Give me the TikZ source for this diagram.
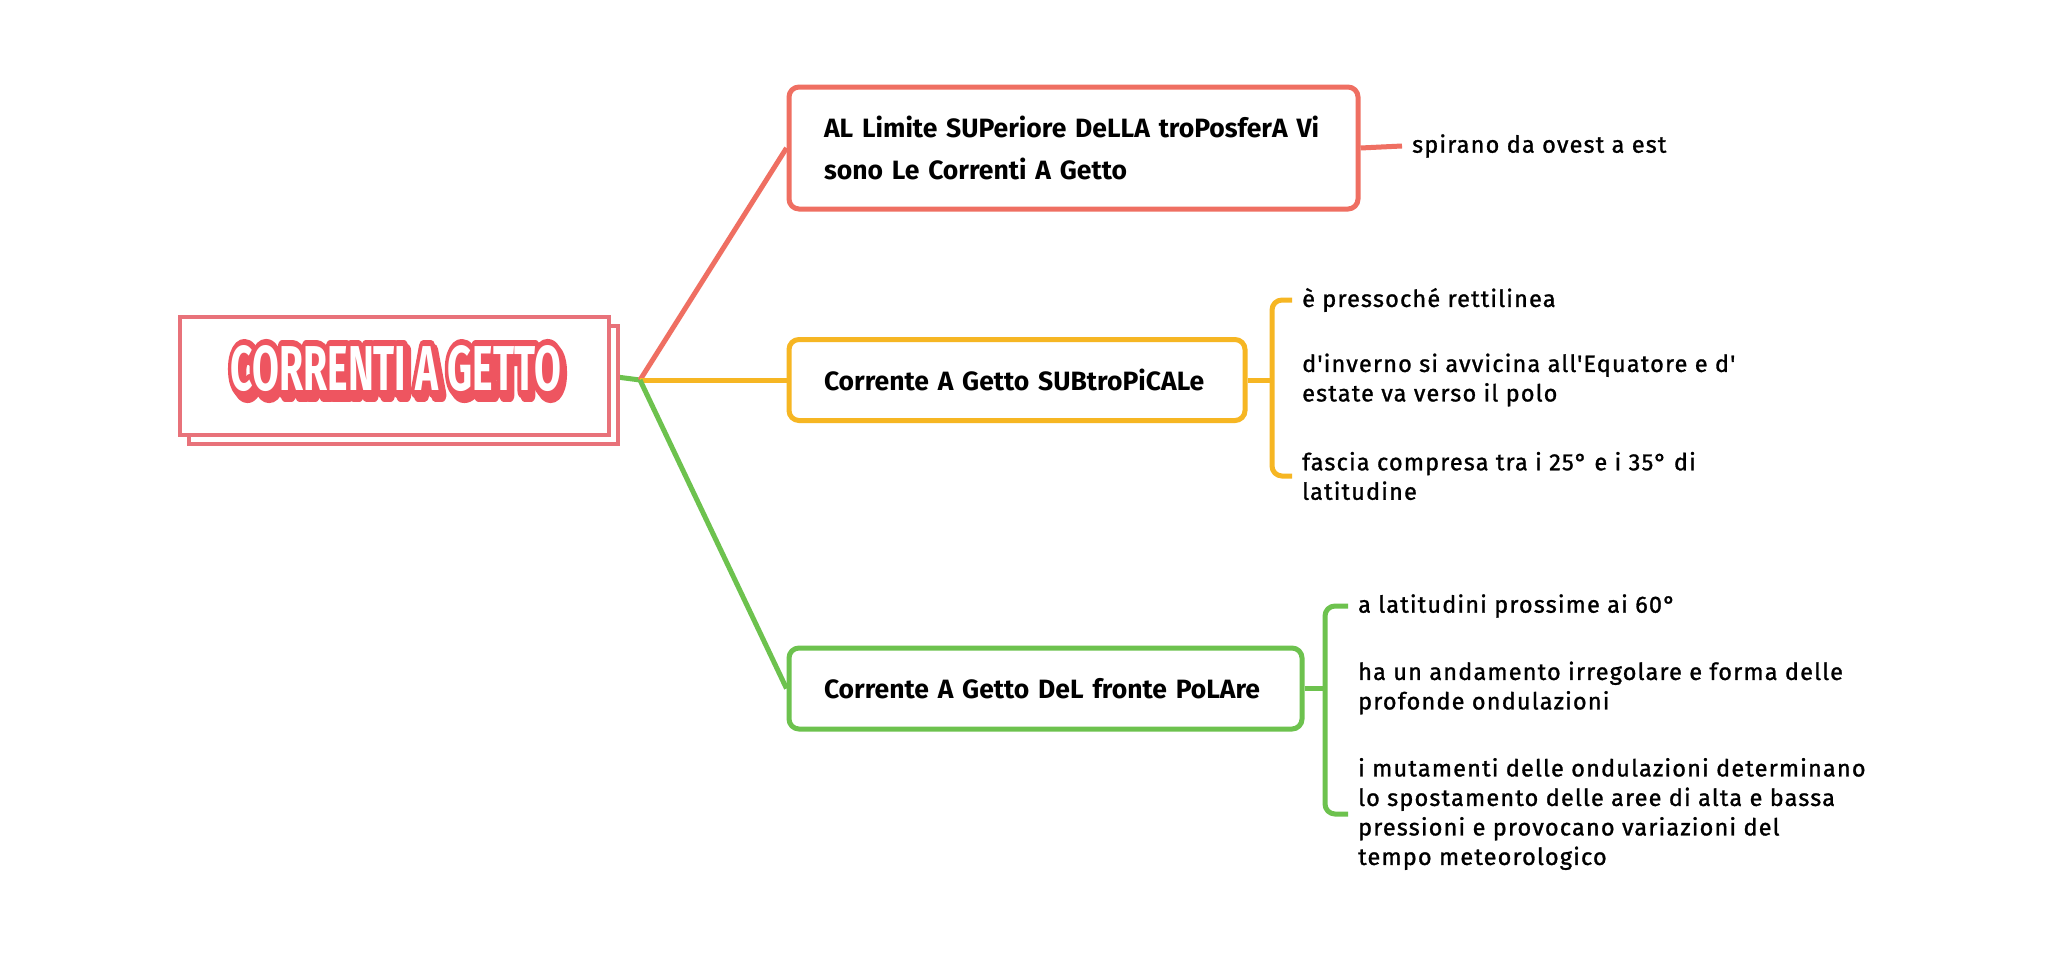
\documentclass[tikz,border=0pt]{standalone}
\usepackage{fontspec}
\setmainfont{Fira Sans}
\newfontfamily\itemfont{Fira Sans}[LetterSpace=5,FakeBold=1.2]
\usetikzlibrary{calc}
\definecolor{cred}{HTML}{EF6F62}
\definecolor{cyel}{HTML}{F6B623}
\definecolor{cgrn}{HTML}{6DC24E}
\definecolor{croot}{HTML}{E8727A}
\definecolor{ctitle}{HTML}{EE5560}
\pgfdeclarelayer{bg}
\pgfsetlayers{bg,main}
\newcommand{\titletext}{\resizebox{330pt}{45pt}{\bfseries CORRENTI A GETTO}}
\newcommand{\strokedtitle}{\resizebox{330pt}{45pt}{\bfseries\special{pdf:literal direct 2 Tr 2.2 w 0.933 0.333 0.376 RG 1 J 1 j}CORRENTI A GETTO\special{pdf:literal direct 0 Tr}}}
\begin{document}
\begin{tikzpicture}[x=1pt,y=-1pt,
  box/.style={draw, line width=5pt, rounded corners=10pt, fill=white, inner xsep=35pt, inner ysep=0pt, align=left, font=\fontsize{26.5}{42}\selectfont\bfseries},
  item/.style={anchor=west, inner sep=0pt, align=left, font=\fontsize{23.5}{29.5}\itemfont},
  conn/.style={line width=5pt},
  bracket/.style={line width=5pt, rounded corners=10pt},
  rootline/.style={draw=croot, line width=4pt}]
\useasboundingbox (0,0) rectangle (2048,969);

% root
\node[minimum width=429pt, minimum height=118pt, inner sep=0pt] (root) at (394.5,376) {};
\draw[rootline, fill=white] ([shift={(9,9)}]root.north west) rectangle ([shift={(9,9)}]root.south east);
\draw[rootline, fill=white] (root.north west) rectangle (root.south east);
\node[text=ctitle, inner sep=0pt] (tshadow) at (399,373) {\strokedtitle};
\node[text=ctitle, inner sep=0pt] (toutline) at (396,369) {\strokedtitle};
\node[text=white, inner sep=0pt] (title) at (396,369) {\titletext};

\coordinate (hub) at (640,380);

% level-1 boxes
\node[box, draw=cred, text width=499pt, minimum height=122pt] (b1) at (1073.5,148)
  {AL Limite SUPeriore DeLLA troPosferA Vi\\sono Le Correnti A Getto};
\node[box, draw=cyel, text width=386pt, minimum height=81pt] (b2) at (1017,380)
  {Corrente A Getto SUBtroPiCALe};
\node[box, draw=cgrn, text width=443pt, minimum height=81pt] (b3) at (1045.5,688.5)
  {Corrente A Getto DeL fronte PoLAre};

% items
\node[item] (s1) at (1412,146) {spirano da ovest a est};

\node[item] (i21) at (1302,300) {è pressoché rettilinea};
\node[item] (i22) at (1302,380) {d'inverno si avvicina all'Equatore e d'\\estate va verso il polo};
\node[item] (i23) at (1302,476) {fascia compresa tra i 25° e i 35° di\\latitudine};

\node[item] (i31) at (1358,606) {a latitudini prossime ai 60°};
\node[item] (i32) at (1358,688) {ha un andamento irregolare e forma delle\\profonde ondulazioni};
\node[item] (i33) at (1358,814) {i mutamenti delle ondulazioni determinano\\lo spostamento delle aree di alta e bassa\\pressioni e provocano variazioni del\\tempo meteorologico};

\begin{pgfonlayer}{bg}
  \fill[white] (0,0) rectangle (2048,969);
  \draw[conn, cgrn] (root.east) -- (hub);
  \draw[conn, cred] (hub) -- (b1.west);
  \draw[conn, cyel] (hub) -- (b2.west);
  \draw[conn, cgrn] (hub) -- (b3.west);
  \draw[conn, cred] (b1.east) -- ([xshift=-10pt]s1.west);
  % bracket 2
  \coordinate (k2) at (1272,380);
  \draw[conn, cyel] (b2.east) -- (k2);
  \draw[bracket, cyel] ([xshift=-10pt]i21.west) -- (k2 |- i21.west) -- (k2 |- i23.west) -- ([xshift=-10pt]i23.west);
  % bracket 3
  \coordinate (k3) at (1325,688.5);
  \draw[conn, cgrn] (b3.east) -- (k3);
  \draw[bracket, cgrn] ([xshift=-10pt]i31.west) -- (k3 |- i31.west) -- (k3 |- i33.west) -- ([xshift=-10pt]i33.west);
\end{pgfonlayer}
\end{tikzpicture}
\end{document}
